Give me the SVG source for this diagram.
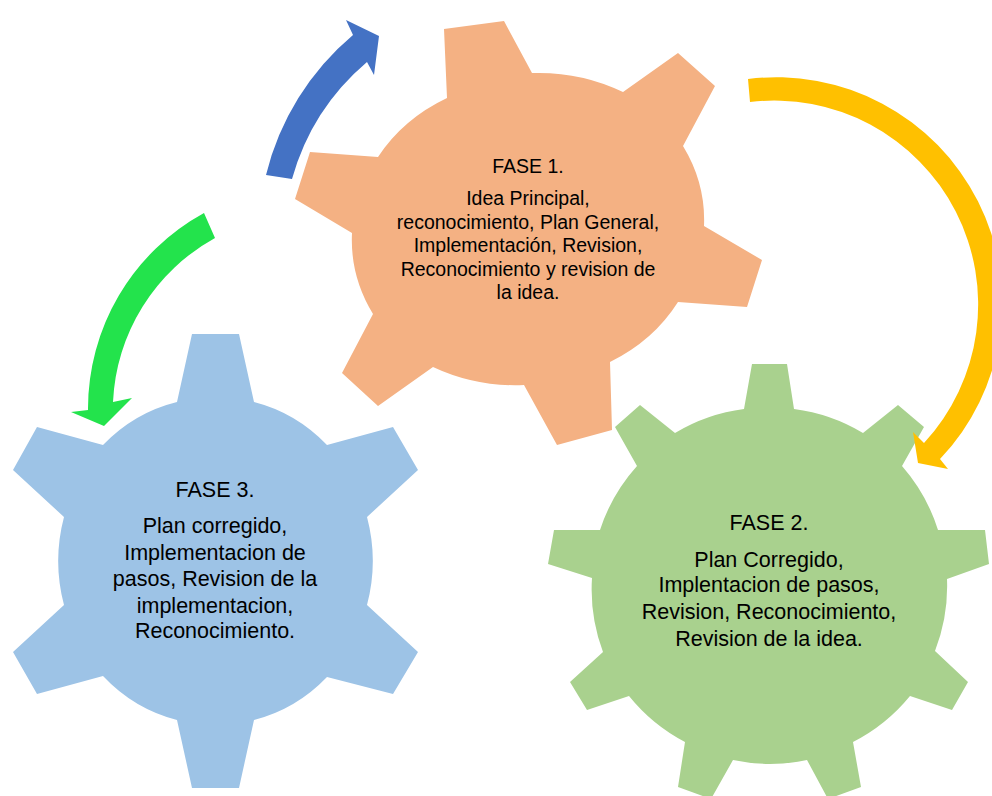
<svg xmlns="http://www.w3.org/2000/svg" width="992" height="796" viewBox="0 0 992 796">
<style>
.t{font-family:"Liberation Sans",Arial,sans-serif;fill:#000;text-anchor:middle}
.f1{font-size:19.5px}
.f2{font-size:21.5px}
</style>
<rect width="992" height="796" fill="#fff"/>
<g id="gear-fase1">
<path fill="#F4B183" d="M447,98 L444,29 L504,21 L532,73 A176,156 0 0 1 623,92 L678,53 L715,86 L683,146 A176,156 0 0 1 704,226 L762,260 L747,307 L678,302 A176,156 0 0 1 610,362 L612,430 L557,445 L524,385 A176,156 0 0 1 433,367 L378,406 L342,373 L373,314 A176,156 0 0 1 352,233 L295,199 L310,152 L378,157 A176,156 0 0 1 447,98 Z"/>
<text class="t f1" x="528" y="173">FASE 1.</text>
<text class="t f1" x="528" y="205">Idea Principal,</text>
<text class="t f1" x="528" y="229">reconocimiento, Plan General,</text>
<text class="t f1" x="528" y="252">Implementación, Revision,</text>
<text class="t f1" x="528" y="276">Reconocimiento y revision de</text>
<text class="t f1" x="528" y="299">la idea.</text>
</g>
<g id="gear-fase2">
<path fill="#A9D18E" d="M744,409 L752,364 L787,364 L794,409 A178,178 0 0 1 863,433 L898,405 L924,427 L902,466 A178,178 0 0 1 938,530 L985,530 L989,564 L947,579 A178,178 0 0 1 935,651 L968,682 L952,710 L910,696 A178,178 0 0 1 853,742 L861,787 L828,799 L807,760 A178,178 0 0 1 733,760 L711,799 L678,787 L685,742 A178,178 0 0 1 629,696 L587,710 L570,682 L603,652 A178,178 0 0 1 592,578 L548,564 L554,530 L600,530 A178,178 0 0 1 637,466 L615,427 L640,405 L675,433 A178,178 0 0 1 744,409 Z"/>
<text class="t f2" x="769" y="530">FASE 2.</text>
<text class="t f2" x="769" y="567">Plan Corregido,</text>
<text class="t f2" x="769" y="592">Implentacion de pasos,</text>
<text class="t f2" x="769" y="619">Revision, Reconocimiento,</text>
<text class="t f2" x="769" y="646">Revision de la idea.</text>
</g>
<g id="gear-fase3">
<path fill="#9DC3E6" d="M177,402 L192,334 L239,334 L254,402 A156,164 0 0 1 327,445 L393,427 L418,470 L367,517 A156,164 0 0 1 367,605 L418,652 L393,694 L327,677 A156,164 0 0 1 254,720 L239,788 L192,788 L177,720 A156,164 0 0 1 103,676 L37,694 L13,652 L64,605 A156,164 0 0 1 64,517 L13,470 L37,427 L103,445 A156,164 0 0 1 177,402 Z"/>
<text class="t f2" x="215" y="497">FASE 3.</text>
<text class="t f2" x="215" y="533">Plan corregido,</text>
<text class="t f2" x="215" y="560">Implementacion de</text>
<text class="t f2" x="215" y="586">pasos, Revision de la</text>
<text class="t f2" x="215" y="613">implementacion,</text>
<text class="t f2" x="215" y="638">Reconocimiento.</text>
</g>
<g id="connectors">
<path fill="#4472C4" d="M266,175 A265,265 0 0 1 353,35 L346,20 L379,36 L374,75 L367,62 A237,237 0 0 0 292,179 Z"/>
<path fill="#FFC000" d="M748,79 A226,226 0 0 1 940,459 L948,469 L918,463 L913,432 L924,443 A204,204 0 0 0 750,102 Z"/>
<path fill="#23E34C" d="M204,213 A223,223 0 0 0 88,410 L71,412 L104,426 L132,398 L113,402 A197,197 0 0 1 215,238 Z"/>
</g>
</svg>
